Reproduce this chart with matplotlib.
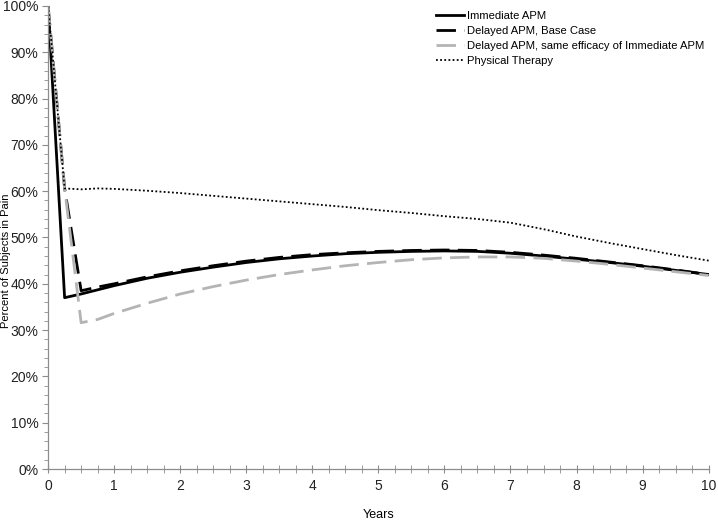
import matplotlib
matplotlib.use("Agg")
import matplotlib.pyplot as plt
from matplotlib.ticker import MultipleLocator, PercentFormatter

plt.rcParams['font.family'] = ['Liberation Sans', 'DejaVu Sans']

# Years on the x axis
years_immediate = [0, 0.25, 0.5, 1, 1.5, 2, 2.5, 3, 3.5, 4, 4.5, 5, 5.5,
                   6, 6.5, 7, 7.5, 8, 8.5, 9, 9.5, 10]
years_delayed = [0, 0.25, 0.5, 0.75, 1, 1.5, 2, 2.5, 3, 3.5, 4, 4.5, 5, 5.5,
                 6, 6.5, 7, 7.5, 8, 8.5, 9, 9.5, 10]
years_pt = [0, 0.25, 0.5, 0.75, 1, 1.5, 2, 2.5, 3, 3.5, 4, 4.5, 5, 5.5,
            6, 6.5, 7, 7.5, 8, 8.5, 9, 9.5, 10]

# Percent of subjects in pain
immediate_apm = [100, 37.0, 37.8, 39.6, 41.2, 42.5, 43.6, 44.6, 45.4, 46.0,
                 46.5, 46.8, 47.0, 47.1, 47.0, 46.6, 46.0, 45.3, 44.6, 43.8,
                 42.9, 42.0]
delayed_base = [100, 60.6, 38.5, 39.3, 40.0, 41.5, 42.8, 43.9, 44.9, 45.7,
                46.3, 46.7, 47.0, 47.2, 47.3, 47.2, 46.8, 46.2, 45.5, 44.7,
                43.9, 43.0, 42.0]
delayed_same = [100, 60.6, 31.6, 32.3, 33.6, 35.8, 37.8, 39.4, 40.8, 42.0,
                43.0, 43.9, 44.6, 45.2, 45.6, 45.8, 45.8, 45.5, 44.9, 44.2,
                43.4, 42.6, 41.8]
physical_therapy = [100, 60.6, 60.4, 60.6, 60.5, 60.1, 59.6, 59.0, 58.4,
                    57.8, 57.2, 56.6, 55.9, 55.3, 54.6, 54.0, 53.2, 51.8,
                    50.2, 48.8, 47.5, 46.2, 45.0]

fig = plt.figure(figsize=(7.18, 5.21), dpi=100)
ax = fig.add_axes([0.067, 0.0998, 0.92, 0.8887])

ax.plot(years_immediate, immediate_apm, color='black', lw=2.0,
        label='Immediate APM')
ax.plot(years_delayed, delayed_base, color='black', lw=2.0,
        dashes=(7, 3), label='Delayed APM, Base Case')
ax.plot(years_delayed, delayed_same, color='#b4b4b4', lw=2.0,
        dashes=(7, 3), label='Delayed APM, same efficacy of Immediate APM')
ax.plot(years_pt, physical_therapy, color='black', lw=1.3,
        linestyle=(0, (1, 1.3)), label='Physical Therapy')

ax.set_xlim(0, 10)
ax.set_ylim(0, 100)
ax.xaxis.set_major_locator(MultipleLocator(1))
ax.xaxis.set_minor_locator(MultipleLocator(0.25))
ax.yaxis.set_major_locator(MultipleLocator(10))
ax.yaxis.set_minor_locator(MultipleLocator(2))
ax.yaxis.set_major_formatter(PercentFormatter(decimals=0))

for side in ('top', 'right'):
    ax.spines[side].set_visible(False)
for side in ('left', 'bottom'):
    ax.spines[side].set_color('#8c8c8c')
    ax.spines[side].set_linewidth(0.9)

ax.tick_params(which='major', direction='out', length=4, color='#8c8c8c',
               labelsize=10, labelcolor='#222222')
ax.tick_params(which='minor', direction='out', length=3, color='#8c8c8c')
ax.tick_params(axis='x', which='both', direction='inout', length=6)
ax.tick_params(axis='x', which='major', pad=4)
ax.tick_params(axis='y', which='major', pad=3)

ax.set_xlabel('Years', fontsize=9, va='center')
ax.xaxis.set_label_coords(0.5, -0.099)
ax.set_ylabel('Percent of Subjects in Pain', fontsize=8, va='center')
ax.yaxis.set_label_coords(-0.063, 0.45)

fig.legend(*ax.get_legend_handles_labels(), loc='upper left',
           bbox_to_anchor=(0.603, 0.985), frameon=False, fontsize=8.1,
           handlelength=2.5, handletextpad=0.25, labelspacing=0.45,
           borderaxespad=0, borderpad=0.3)

fig.savefig('out.png', dpi=100)
